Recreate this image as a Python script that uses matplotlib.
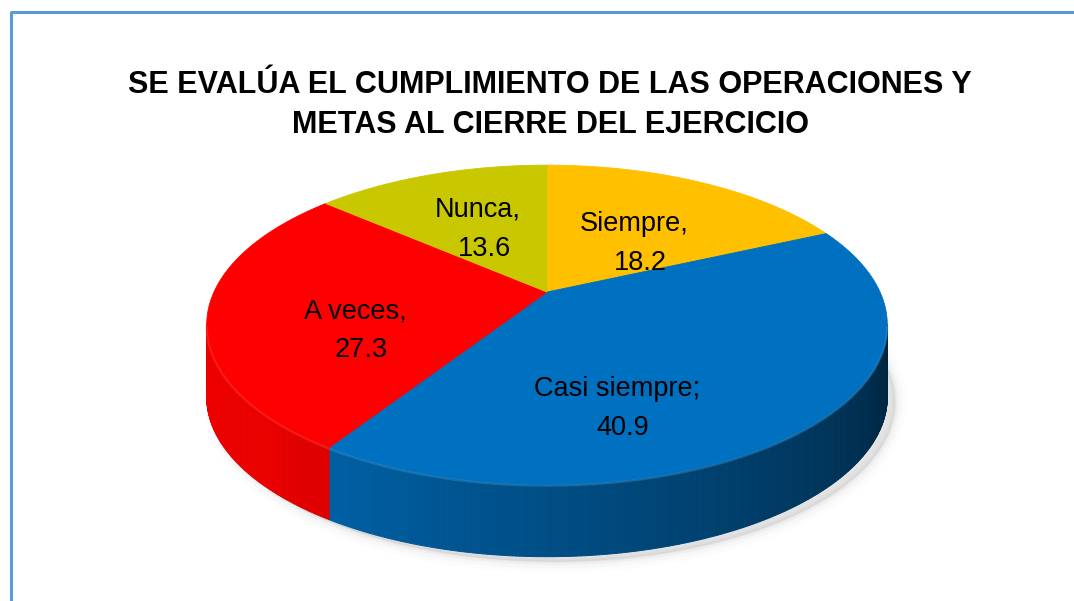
import numpy as np
import matplotlib.pyplot as plt
from matplotlib.collections import PolyCollection
from matplotlib.patches import Polygon
from matplotlib.colors import to_rgb

plt.rcParams['font.family'] = ['Liberation Sans', 'DejaVu Sans']

# --- data ---
labels = ["Siempre", "Casi siempre", "A veces", "Nunca"]
values = [18.2, 40.9, 27.3, 13.6]
separators = [",", ";", ",", ","]
colors = ["#FFC000", "#0070C0", "#FF0000", "#C9C800"]
title_lines = ["SE EVALÚA EL CUMPLIMIENTO DE LAS OPERACIONES Y",
               "METAS AL CIERRE DEL EJERCICIO"]

# --- layout (pixels) ---
W, H = 1074, 601
cx, cy = 547, 292      # pie centre on the top face
A, B = 333, 153        # radii before perspective
k = 0.206              # perspective strength
depth = 72             # thickness of the pie
label_xy = [(637, 231), (620, 396), (358, 318), (481, 217)]
line_gap = 39


def project(theta, r=1.0):
    # theta in degrees, clockwise from 12 o'clock
    t = np.radians(theta)
    u = r * np.sin(t)
    v = -r * np.cos(t)
    d = 1 - k * v
    return cx + A * u / d, cy + B * v / d


def shade(color, theta):
    # side lighting: bright on the left, dark on the right
    f = 0.45 + (theta - 130) / 82 * 0.4
    f = min(max(f, 0.3), 0.92)
    if color == "#FF0000":
        f = max(f, 0.88)
    return tuple(c * f for c in to_rgb(color))


fig = plt.figure(figsize=(W / 100, H / 100), dpi=100)
ax = fig.add_axes([0, 0, 1, 1])
ax.set_xlim(0, W)
ax.set_ylim(H, 0)
ax.axis('off')

total = sum(values)
bounds = np.concatenate([[0], np.cumsum(values) / total * 360])
th_right = np.degrees(np.arccos(-k))
th_left = 360 - th_right

# soft shadow under the pie (lower right)
full = np.linspace(0, 360, 361)
sx, sy = project(full)
for lw, al in [(16, 0.02), (10, 0.035), (5, 0.05), (2, 0.06)]:
    ax.add_patch(Polygon(np.column_stack([sx + 8, sy + depth + 5]), closed=True,
                         fc=(0.5, 0.5, 0.5, al), ec=(0.5, 0.5, 0.5, al), lw=lw))

# sides
for i in range(len(values)):
    a = max(bounds[i], th_right)
    b = min(bounds[i + 1], th_left)
    if a >= b:
        continue
    th = np.linspace(a, b, int((b - a) * 2) + 2)
    x, y = project(th)
    polys, cols = [], []
    for j in range(len(th) - 1):
        polys.append([(x[j], y[j]), (x[j + 1], y[j + 1]),
                      (x[j + 1], y[j + 1] + depth), (x[j], y[j] + depth)])
        cols.append(shade(colors[i], (th[j] + th[j + 1]) / 2))
    ax.add_collection(PolyCollection(polys, facecolors=cols, edgecolors=cols, lw=0.7))

# top faces
for i in range(len(values)):
    th = np.linspace(bounds[i], bounds[i + 1], 200)
    x, y = project(th)
    pts = np.column_stack([np.r_[cx, x], np.r_[cy, y]])
    ax.add_patch(Polygon(pts, closed=True, fc=colors[i], ec=colors[i], lw=0.6))

# light rim on the front edge
for i in range(len(values)):
    a = max(bounds[i], th_right)
    b = min(bounds[i + 1], th_left)
    if a >= b:
        continue
    th = np.linspace(a, b, 100)
    x, y = project(th)
    rim = tuple(0.7 * c + 0.3 for c in to_rgb(colors[i]))
    ax.plot(x, y + 1, color=rim, lw=1.6, alpha=0.35, solid_capstyle='butt')

# data labels
for i in range(len(values)):
    lx, ly = label_xy[i]
    ax.text(lx - 3, ly, labels[i] + separators[i], ha='center', va='baseline',
            fontsize=19.5, color='black')
    ax.text(lx + 3, ly + line_gap, f"{values[i]:.1f}", ha='center', va='baseline',
            fontsize=19.5, color='black')

# title
ax.text(550, 93, title_lines[0], ha='center', va='baseline', fontsize=22, fontweight='bold')
ax.text(550, 133, title_lines[1], ha='center', va='baseline', fontsize=22, fontweight='bold')

# chart frame
ax.plot([11, 11, W + 5], [H + 5, 12, 12], color='#5B9BD5', lw=2.2)

fig.savefig("out.png", dpi=100)
